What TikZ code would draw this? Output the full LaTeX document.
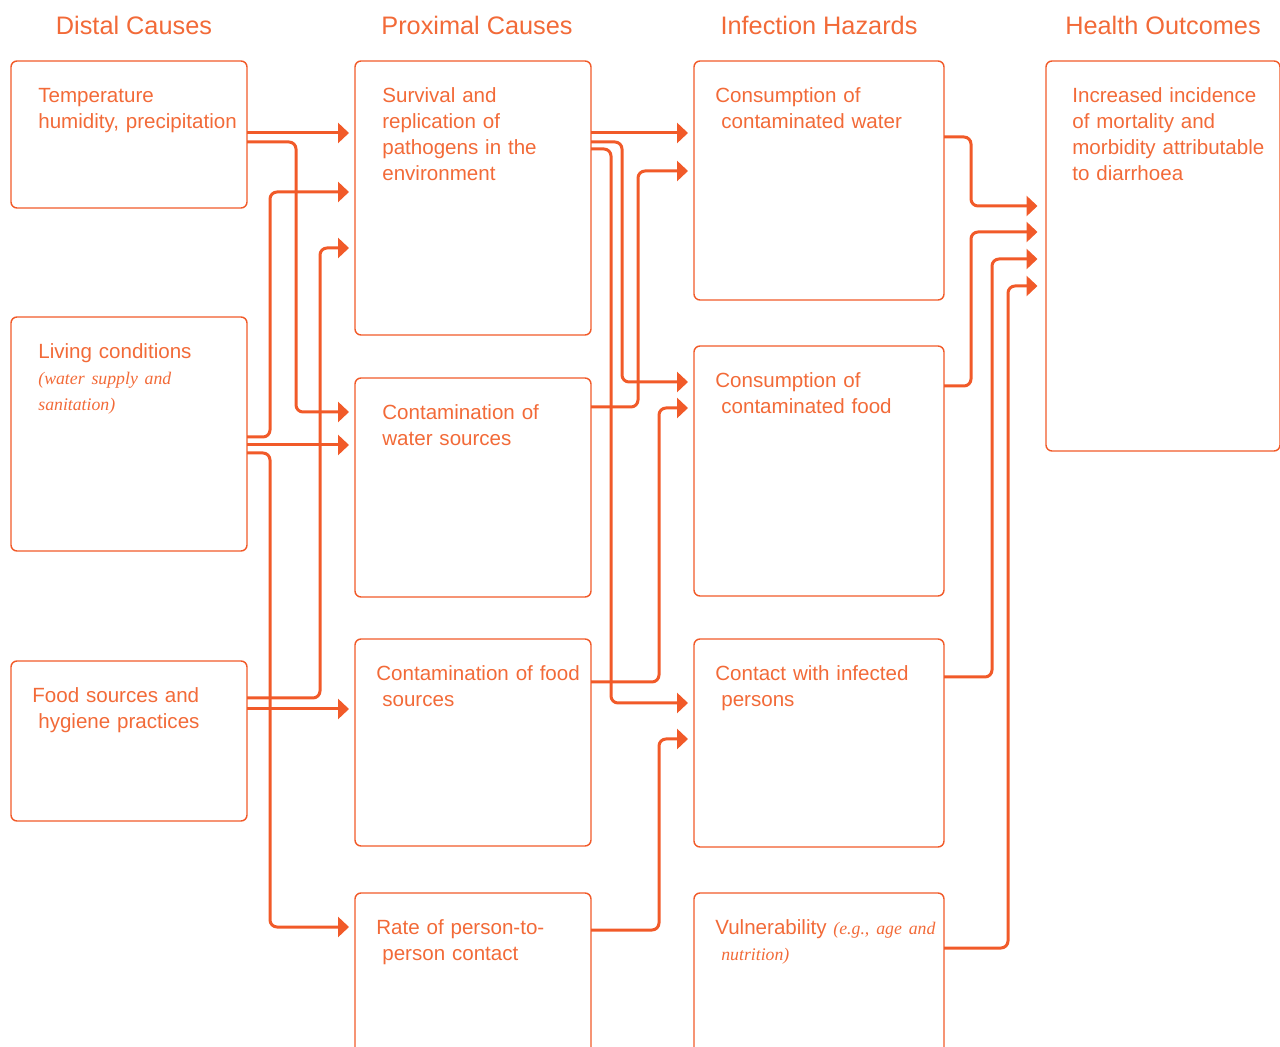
\documentclass[tikz,border=0pt]{standalone}
\usepackage{fontspec}
\setmainfont{Liberation Sans}
\newfontfamily\notefont{Liberation Serif}
\usetikzlibrary{positioning, calc, arrows.meta}
\definecolor{accent}{HTML}{F15A29}
\definecolor{accenttext}{HTML}{F26A38}
\newcommand{\note}[1]{{\notefont\itshape\fontsize{10.1}{14.8}\selectfont #1}}
\newcommand{\outdent}{\hspace*{-0.12cm}}

\begin{document}
\begin{tikzpicture}[
        box/.style={draw=accent, line width=0.8pt, rounded corners=0.12cm, anchor=north west, inner sep=0pt, outer sep=0pt},
        txt/.style={anchor=base west, inner sep=0pt, text=accenttext, text width=5cm, align=left, font=\fontsize{11.7}{14.8}\selectfont},
        head/.style={anchor=base, inner sep=0pt, text=accenttext, font=\fontsize{14.4}{17}\selectfont},
        arrow/.style={draw=accent, line width=0.06cm, rounded corners=0.14cm, shorten >=0.12cm, -{Triangle[length=0.22cm, width=0.4cm]}}
    ]

    \useasboundingbox (0,0) rectangle (25.6,-20.94);
    \clip (0,0) rectangle (25.6,-20.94);

    % distal causes
    \node (temp) [box, minimum width=4.72cm, minimum height=2.94cm] at (0.22,-1.22) {};
    \node (living) [box, minimum width=4.72cm, minimum height=4.68cm] at (0.22,-6.34) {};
    \node (food) [box, minimum width=4.72cm, minimum height=3.2cm] at (0.22,-13.22) {};

    % proximal causes
    \node (surv) [box, minimum width=4.72cm, minimum height=5.48cm] at (7.10,-1.22) {};
    \node (water) [box, minimum width=4.72cm, minimum height=4.38cm] at (7.10,-7.56) {};
    \node (foodsrc) [box, minimum width=4.72cm, minimum height=4.14cm] at (7.10,-12.78) {};
    \node (rate) [box, minimum width=4.72cm, minimum height=3.6cm] at (7.10,-17.86) {};

    % infection hazards
    \node (cwater) [box, minimum width=5.0cm, minimum height=4.78cm] at (13.88,-1.22) {};
    \node (cfood) [box, minimum width=5.0cm, minimum height=5.0cm] at (13.88,-6.92) {};
    \node (contact) [box, minimum width=5.0cm, minimum height=4.16cm] at (13.88,-12.78) {};
    \node (vuln) [box, minimum width=5.0cm, minimum height=3.6cm] at (13.88,-17.86) {};

    % health outcomes
    \node (outcome) [box, minimum width=4.68cm, minimum height=7.8cm] at (20.92,-1.22) {};

    \node (h-distal) [head] at ([xshift=0.1cm, yshift=0.52cm]temp.north) {Distal Causes};
    \node (h-proximal) [head] at ([xshift=0.08cm, yshift=0.52cm]surv.north) {Proximal Causes};
    \node (h-hazard) [head] at ([yshift=0.52cm]cwater.north) {Infection Hazards};
    \node (h-outcome) [head] at ([yshift=0.52cm]outcome.north) {Health Outcomes};

    \node (temp-t) [txt] at ([xshift=0.54cm, yshift=-0.83cm]temp.north west) {Temperature\\humidity, precipitation};
    \node (living-t) [txt] at ([xshift=0.54cm, yshift=-0.83cm]living.north west) {Living conditions\\\note{(water supply and}\\\note{sanitation)}};
    \node (food-t) [txt] at ([xshift=0.54cm, yshift=-0.83cm]food.north west) {\outdent Food sources and\\hygiene practices};
    \node (surv-t) [txt] at ([xshift=0.54cm, yshift=-0.83cm]surv.north west) {Survival and\\replication of\\pathogens in the\\environment};
    \node (water-t) [txt] at ([xshift=0.54cm, yshift=-0.83cm]water.north west) {Contamination of\\water sources};
    \node (foodsrc-t) [txt] at ([xshift=0.54cm, yshift=-0.83cm]foodsrc.north west) {\outdent Contamination of food\\sources};
    \node (rate-t) [txt] at ([xshift=0.54cm, yshift=-0.83cm]rate.north west) {\outdent Rate of person-to-\\person contact};
    \node (cwater-t) [txt] at ([xshift=0.54cm, yshift=-0.83cm]cwater.north west) {\outdent Consumption of\\contaminated water};
    \node (cfood-t) [txt] at ([xshift=0.54cm, yshift=-0.83cm]cfood.north west) {\outdent Consumption of\\contaminated food};
    \node (contact-t) [txt] at ([xshift=0.54cm, yshift=-0.83cm]contact.north west) {\outdent Contact with infected\\persons};
    \node (vuln-t) [txt] at ([xshift=0.54cm, yshift=-0.83cm]vuln.north west) {\outdent Vulnerability \note{(e.g., age and}\\\note{nutrition)}};
    \node (outcome-t) [txt] at ([xshift=0.52cm, yshift=-0.83cm]outcome.north west) {Increased incidence\\of mortality and\\morbidity attributable\\to diarrhoea};

    % distal -> proximal
    \draw [arrow] (temp.east |- 0,-2.66) -- (surv.west |- 0,-2.66);
    \draw [arrow] (temp.east |- 0,-2.84) -| (5.92,-8.24) -- (water.west |- 0,-8.24);
    \draw [arrow] (living.east |- 0,-8.74) -| (5.40,-3.84) -- (surv.west |- 0,-3.84);
    \draw [arrow] (living.east |- 0,-8.90) -- (water.west |- 0,-8.90);
    \draw [arrow] (living.east |- 0,-9.06) -| (5.40,-18.54) -- (rate.west |- 0,-18.54);
    \draw [arrow] (food.east |- 0,-13.96) -| (6.40,-4.96) -- (surv.west |- 0,-4.96);
    \draw [arrow] (food.east |- 0,-14.18) -- (foodsrc.west |- 0,-14.18);

    % proximal -> hazards
    \draw [arrow] (surv.east |- 0,-2.66) -- (cwater.west |- 0,-2.66);
    \draw [arrow] (surv.east |- 0,-2.84) -| (12.44,-7.64) -- (cfood.west |- 0,-7.64);
    \draw [arrow] (surv.east |- 0,-2.98) -| (12.22,-14.06) -- (contact.west |- 0,-14.06);
    \draw [arrow] (water.east |- 0,-8.14) -| (12.76,-3.42) -- (cwater.west |- 0,-3.42);
    \draw [arrow] (foodsrc.east |- 0,-13.64) -| (13.18,-8.16) -- (cfood.west |- 0,-8.16);
    \draw [arrow] (rate.east |- 0,-18.60) -| (13.18,-14.78) -- (contact.west |- 0,-14.78);

    % hazards -> outcome
    \draw [arrow, shorten >=0.17cm] (cwater.east |- 0,-2.74) -| (19.42,-4.12) -- (outcome.west |- 0,-4.12);
    \draw [arrow, shorten >=0.17cm] (cfood.east |- 0,-7.72) -| (19.42,-4.64) -- (outcome.west |- 0,-4.64);
    \draw [arrow, shorten >=0.17cm] (contact.east |- 0,-13.54) -| (19.84,-5.18) -- (outcome.west |- 0,-5.18);
    \draw [arrow, shorten >=0.17cm] (vuln.east |- 0,-18.96) -| (20.16,-5.72) -- (outcome.west |- 0,-5.72);

\end{tikzpicture}
\end{document}
